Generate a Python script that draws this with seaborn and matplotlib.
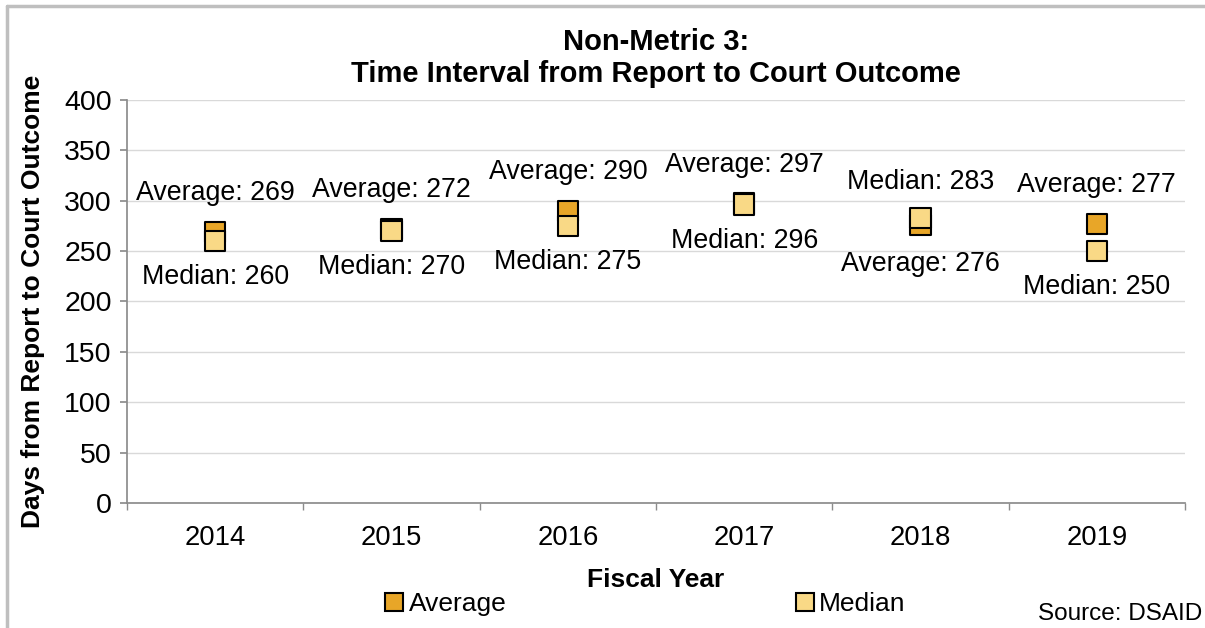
import seaborn as sns
import matplotlib.pyplot as plt
import pandas as pd
from matplotlib.lines import Line2D

years = ['2014', '2015', '2016', '2017', '2018', '2019']
average = [269, 272, 290, 297, 276, 277]
median = [260, 270, 275, 296, 283, 250]
# +1 puts the label above the marker, -1 below
avg_side = [1, 1, 1, 1, -1, 1]
med_side = [-1, -1, -1, -1, 1, -1]

avg_color = '#E8A628'
med_color = '#F9D986'

sns.set_theme(style='white')
plt.rcParams['font.family'] = ['Liberation Sans', 'DejaVu Sans']
plt.rcParams['text.color'] = 'black'
plt.rcParams['xtick.color'] = 'black'
plt.rcParams['ytick.color'] = 'black'
plt.rcParams['axes.labelcolor'] = 'black'

df = pd.DataFrame({'year': years * 2,
                   'days': average + median,
                   'kind': ['Average'] * 6 + ['Median'] * 6})

fig = plt.figure(figsize=(12.05, 6.28), dpi=100)
ax = fig.add_axes([0.1054, 0.199, 0.8780, 0.642])

sns.scatterplot(data=df, x='year', y='days', hue='kind', marker='s', s=215,
                palette={'Average': avg_color, 'Median': med_color},
                edgecolor='black', linewidth=1.5, ax=ax, legend=False, zorder=3)

for i, y in enumerate(years):
    ax.annotate(f'Average: {average[i]}', (i, average[i]), xytext=(0, 39 * avg_side[i]),
                textcoords='offset pixels', ha='center', va='center', fontsize=19.3)
    ax.annotate(f'Median: {median[i]}', (i, median[i]), xytext=(0, 36 * med_side[i]),
                textcoords='offset pixels', ha='center', va='center', fontsize=19.3)

ax.set_xlim(-0.5, 5.5)
ax.set_ylim(0, 400)
ax.set_yticks(range(0, 401, 50))
ax.yaxis.grid(True, color='#D9D9D9', linewidth=1)
ax.set_axisbelow(True)
for side in ['top', 'right']:
    ax.spines[side].set_visible(False)
for side in ['left', 'bottom']:
    ax.spines[side].set_color('#8C8C8C')
ax.set_xticks([i - 0.5 for i in range(7)], minor=True)
ax.tick_params(axis='x', which='major', length=0, labelsize=19.8, pad=16)
ax.tick_params(axis='x', which='minor', length=5, color='#8C8C8C', direction='out', bottom=True)
ax.tick_params(axis='y', length=5, color='#8C8C8C', direction='out', left=True, labelsize=20.5, pad=6)

ax.set_xlabel('Fiscal Year', fontsize=19, fontweight='bold', labelpad=12)
ax.set_ylabel('Days from Report to Court Outcome', fontsize=19, fontweight='bold', labelpad=14)
ax.set_title('Non-Metric 3:\nTime Interval from Report to Court Outcome',
             fontsize=21, fontweight='bold', pad=13, linespacing=1.15)

handles = [Line2D([], [], marker='s', linestyle='', markersize=13, markerfacecolor=avg_color,
                  markeredgecolor='black', markeredgewidth=1.5, label='Average'),
           Line2D([], [], marker='s', linestyle='', markersize=13, markerfacecolor=med_color,
                  markeredgecolor='black', markeredgewidth=1.5, label='Median')]
fig.legend(handles=handles, loc='center', bbox_to_anchor=(0.535, 0.038), ncol=2,
           frameon=False, fontsize=19, handletextpad=0.15, columnspacing=10.9,
           handlelength=0.8)

fig.text(0.998, 0.022, 'Source: DSAID', ha='right', va='center', fontsize=17.5)

# light gray frame of the original chart box
fig.add_artist(Line2D([0.006, 0.006], [0.0, 0.99], color='#BFBFBF', linewidth=2.5,
                      transform=fig.transFigure))
fig.add_artist(Line2D([0.006, 1.0], [0.99, 0.99], color='#BFBFBF', linewidth=2.5,
                      transform=fig.transFigure))

fig.savefig('out.png', dpi=100)
